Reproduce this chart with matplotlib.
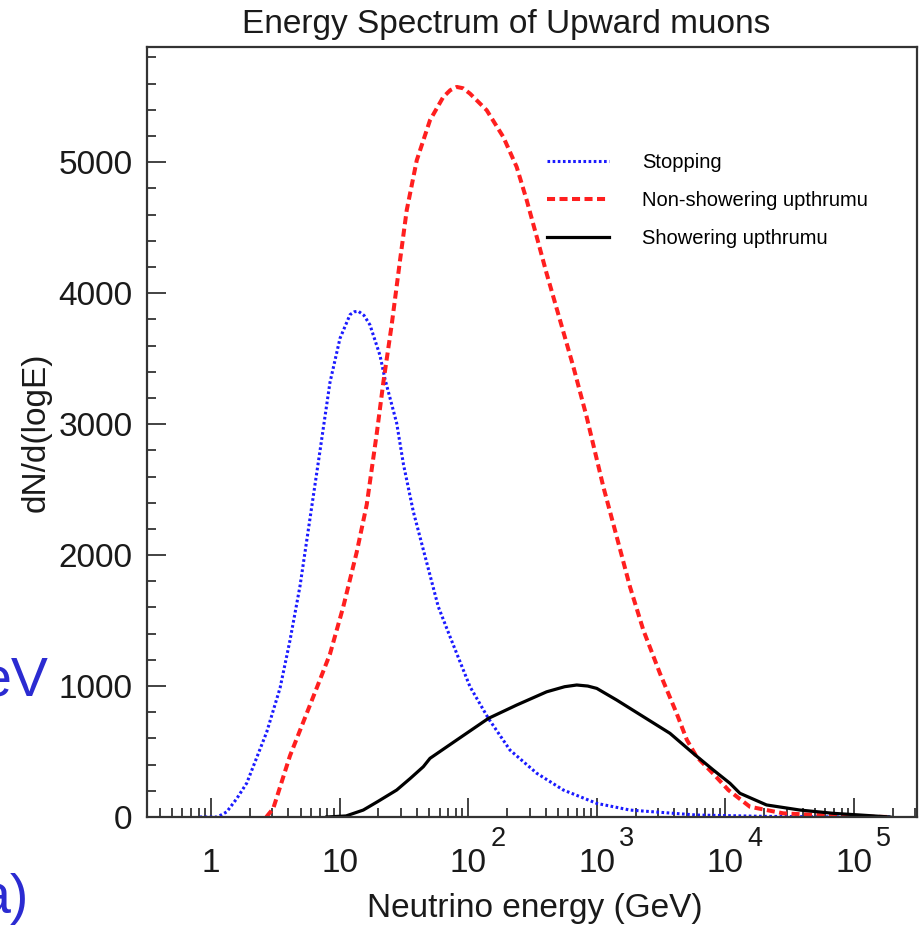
import matplotlib
matplotlib.use("Agg")
import matplotlib.pyplot as plt
import matplotlib.ticker as ticker
import numpy as np

plt.rcParams["font.family"] = ["Liberation Sans", "DejaVu Sans"]
plt.rcParams["lines.scale_dashes"] = False

# values: log10(E / GeV) and dN/d(logE)
stop_logE = [-0.09, 0.05, 0.122, 0.20, 0.278, 0.433, 0.537, 0.614, 0.692, 0.770, 0.848,
             0.925, 1.003, 1.081, 1.115, 1.146, 1.19, 1.236, 1.314, 1.353, 1.444, 1.496,
             1.573, 1.677, 1.767, 1.859, 2.014, 2.157, 2.325, 2.533, 2.740, 3.0, 3.258,
             3.777, 4.3, 4.8, 5.28]
stop_val = [0, 0, 39, 140, 259, 648, 985, 1348, 1763, 2281, 2799,
            3318, 3655, 3836, 3858, 3862, 3830, 3758, 3525, 3344, 3007, 2696,
            2333, 1944, 1607, 1376, 995, 753, 511, 334, 206, 104, 53,
            15, 5, 1, 0]

nonshow_logE = [0.43, 0.484, 0.614, 0.718, 0.822, 0.925, 1.029, 1.133, 1.211, 1.289,
                1.340, 1.405, 1.470, 1.522, 1.600, 1.703, 1.806, 1.86, 1.911, 1.96,
                2.014, 2.144, 2.273, 2.377, 2.455, 2.533, 2.610, 2.714, 2.818, 2.921,
                3.051, 3.155, 3.258, 3.362, 3.491, 3.621, 3.700, 3.776, 3.906, 4.023,
                4.191, 4.450, 4.710, 5.0, 5.28]
nonshow_val = [0, 65, 467, 726, 985, 1244, 1607, 2022, 2385, 2929,
               3318, 3758, 4252, 4634, 5015, 5321, 5498, 5550, 5575, 5565,
               5524, 5397, 5193, 4964, 4710, 4430, 4150, 3794, 3437, 3056,
               2521, 2140, 1758, 1427, 1097, 791, 590, 460, 330, 206,
               78, 28, 15, 4, 0]

show_logE = [0.9, 1.05, 1.184, 1.30, 1.444, 1.55, 1.651, 1.703, 1.911, 2.157,
             2.377, 2.610, 2.75, 2.844, 2.93, 3.0, 3.155, 3.362, 3.569, 3.750, 3.906,
             4.036, 4.113, 4.320, 4.580, 4.839, 5.05, 5.28]
show_val = [0, 8, 53, 120, 206, 295, 384, 448, 588, 753,
            855, 956, 995, 1008, 1000, 982, 893, 766, 639, 486, 359,
            257, 181, 92, 53, 28, 15, 0]

labels = ["Stopping", "Non-showering upthrumu", "Showering upthrumu"]
decades = [0, 1, 2, 3, 4, 5]

W, H = 921, 926
fig = plt.figure(figsize=(W / 100, H / 100), dpi=100)
ax = fig.add_axes([147 / W, 1 - 817 / H, (917 - 147) / W, (817 - 47) / H])

ax.plot(10 ** np.array(stop_logE), stop_val, color="#1a1aff", lw=2.2,
        linestyle=(0, (1.9, 1.8)), label=labels[0])
ax.plot(10 ** np.array(nonshow_logE), nonshow_val, color="#ff1f1f", lw=2.9,
        linestyle=(0, (5.8, 3.2)), label=labels[1])
ax.plot(10 ** np.array(show_logE), show_val, color="black", lw=2.3, label=labels[2])

ax.set_xscale("log")
ax.set_xlim(10 ** -0.4977, 10 ** 5.49)
ax.set_ylim(0, 5880)

ax.xaxis.set_major_locator(ticker.FixedLocator([10.0 ** d for d in decades]))
ax.xaxis.set_minor_locator(ticker.LogLocator(base=10, subs=np.arange(2, 10), numticks=20))
ax.xaxis.set_minor_formatter(ticker.NullFormatter())
ax.yaxis.set_major_locator(ticker.MultipleLocator(1000))
ax.yaxis.set_minor_locator(ticker.MultipleLocator(200))

ax.tick_params(which="both", direction="in", top=False, right=False, color="#222222")
ax.tick_params(which="major", length=13.5, width=1.2)
ax.tick_params(which="minor", length=6.5, width=1.2)
ax.tick_params(axis="x", labelbottom=False)
ax.tick_params(axis="y", labelsize=24, pad=10.5, labelcolor="#1a1a1a")
for s in ax.spines.values():
    s.set_linewidth(1.6)
    s.set_color("#333333")

# x tick labels: 1, 10, then 10 with raised exponent
for d in decades:
    x = 10.0 ** d
    main = "1" if d == 0 else "10"
    ax.annotate(main, xy=(x, 0), xycoords=("data", "axes fraction"),
                xytext=(0, -55), textcoords="offset pixels",
                ha="center", va="baseline", fontsize=24, color="#1a1a1a")
    if d >= 2:
        ax.annotate(str(d), xy=(x, 0), xycoords=("data", "axes fraction"),
                    xytext=(22, -29), textcoords="offset pixels",
                    ha="left", va="baseline", fontsize=19.5, color="#1a1a1a")

leg = ax.legend(loc="upper left", bbox_to_anchor=(547 / W, 1 - 153 / H),
                bbox_transform=fig.transFigure, frameon=False, fontsize=14.5,
                handlelength=3.1, handletextpad=1.6, labelspacing=0.95,
                borderpad=0, borderaxespad=0)

fig.text(506 / W, 1 - 33 / H, "Energy Spectrum of Upward muons", ha="center",
         va="baseline", fontsize=24, color="#1a1a1a")
fig.text(535 / W, 9 / H, "Neutrino energy (GeV)", ha="center", va="baseline",
         fontsize=24, color="#1a1a1a")
fig.text(36 / W, 1 - 432 / H, "dN/d(logE)", rotation=90, ha="center", va="center",
         fontsize=24, color="#1a1a1a")

# fragments of the surrounding slide, cut by the left edge as in the source
fig.text(48 / W, 1 - 695 / H, "eV", ha="right", va="baseline", fontsize=40,
         color="#2b2bd1")
fig.text(29 / W, 1 - 913 / H, "a)", ha="right", va="baseline", fontsize=40,
         color="#2b2bd1")

fig.savefig("out.png", dpi=100)
